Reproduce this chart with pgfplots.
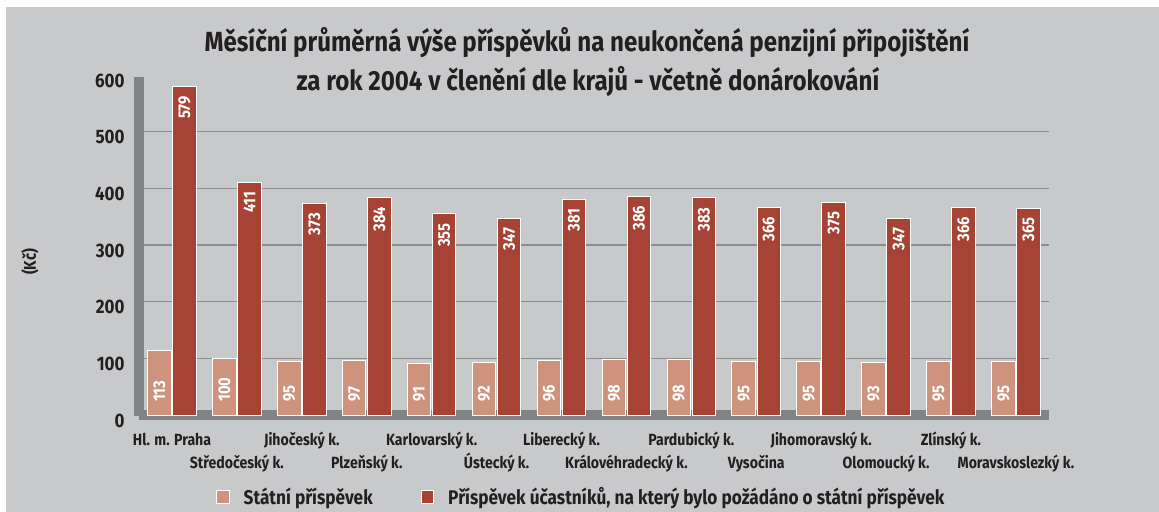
\documentclass[border=0pt]{standalone}
\usepackage{pgfplots}
\pgfplotsset{compat=1.18}
\usepackage{pgfplotstable}
\usepackage{fontspec}
\setmainfont{Fira Sans}[FakeStretch=0.87]
\definecolor{bg}{RGB}{200,201,203}
\definecolor{wallc}{RGB}{130,131,133}
\definecolor{gridc}{RGB}{140,141,143}
\definecolor{lightbar}{RGB}{205,147,124}
\definecolor{darkbar}{RGB}{166,67,52}
\definecolor{txt}{RGB}{35,31,32}
\pgfplotstableread{
x a b z
0 113 579 0
1 100 411 0
2 95 373 0
3 97 384 0
4 91 355 0
5 92 347 0
6 96 381 0
7 98 386 0
8 98 383 0
9 95 366 0
10 95 375 0
11 93 347 0
12 95 366 0
13 95 365 0
}\data
\begin{document}
\begin{tikzpicture}
\useasboundingbox (0,0) rectangle (1159bp,512bp);
\fill[white] (0,0) rectangle (1159bp,512bp);
\fill[bg] (6bp,0) rectangle (1159bp,505bp);
\fill[wallc] (134bp,96bp) rectangle (144bp,435bp);
\fill[wallc] (139bp,92bp) rectangle (1049bp,102bp);
\node[font=\fontsize{27.7bp}{30bp}\selectfont\bfseries, text=txt] at (587bp,469bp) {Měsíční průměrná výše příspěvků na neukončená penzijní připojištění};
\node[font=\fontsize{27.7bp}{30bp}\selectfont\bfseries, text=txt] at (588bp,430bp) {za rok 2004 v členění dle krajů - včetně donárokování};
\node[font=\fontsize{17bp}{20bp}\selectfont\bfseries, text=txt, rotate=90] at (30bp,250bp) {(Kč)};
\begin{axis}[
  at={(144bp,97bp)}, anchor=south west,
  scale only axis, width=905bp, height=340bp,
  ybar, bar width=0.362,
  xmin=-0.431, xmax=13.51, ymin=0, ymax=600,
  axis line style={draw=none},
  major tick length=0pt,
  /pgf/number format/assume math mode=true,
  ytick={0,100,...,600},
  yticklabel style={font=\fontsize{19.5bp}{22bp}\selectfont\bfseries, text=txt, anchor=east, xshift=-16bp, yshift=-5.5bp},
  extra y ticks={100,200,300,400,500},
  extra y tick labels={},
  extra y tick style={grid=major, major grid style={gridc, line width=1.6bp}},
  xtick={0,2,4,6,8,10,12},
  xticklabels={Hl. m. Praha, Jihočeský k., Karlovarský k., Liberecký k., Pardubický k., Jihomoravský k., Zlínský k.},
  extra x ticks={1,3,5,7,9,11,13},
  extra x tick labels={Středočeský k., Plzeňský k., Ústecký k., Královéhradecký k., Vysočina, Olomoucký k., Moravskoslezký k.},
  extra x tick style={xticklabel style={yshift=-23bp}},
  xticklabel style={font=\fontsize{16.2bp}{18bp}\selectfont\bfseries, text=txt, anchor=base, yshift=-30bp},
  legend style={at={(0.0796,-0.2412)}, anchor=west, draw=none, fill=none, inner sep=0pt,
    nodes={inner sep=0pt},
    font=\fontsize{19.8bp}{22bp}\selectfont\bfseries, text=txt, legend columns=2,
    /tikz/every odd column/.append style={column sep=14bp},
    /tikz/every even column/.append style={column sep=48bp}},
  legend image code/.code={\fill[#1] (0bp,-6.5bp) rectangle (12.5bp,6.5bp);},
]
\addplot[fill=lightbar, draw=white, line width=1bp, bar shift=-0.193] table[x=x,y=a] {\data};
\addlegendentry{Státní příspěvek}
\addplot[fill=darkbar, draw=white, line width=1bp, bar shift=0.193,
  nodes near coords,
  every node near coord/.append style={font=\fontsize{17bp}{18bp}\selectfont\bfseries, text=white, inner sep=0pt, yshift=-9bp, rotate=90, anchor=east}] table[x=x,y=b] {\data};
\addlegendentry{Příspěvek účastníků, na který bylo požádáno o státní příspěvek}
\addplot[draw=none, fill=none, bar shift=-0.193, forget plot,
  nodes near coords, point meta=explicit,
  every node near coord/.append style={font=\fontsize{17bp}{18bp}\selectfont\bfseries, text=white, inner sep=0pt, yshift=13bp, rotate=90, anchor=west}] table[x=x,y=z,meta=a] {\data};
\end{axis}
\end{tikzpicture}
\end{document}
